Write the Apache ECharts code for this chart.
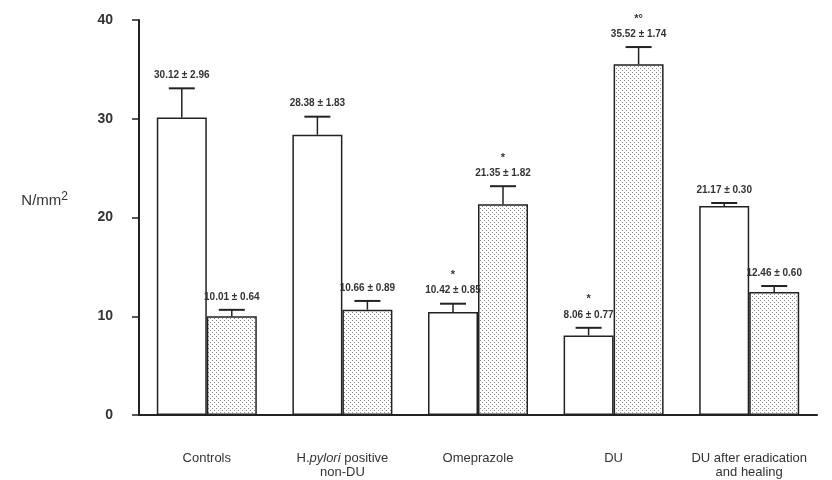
<!DOCTYPE html>
<html>
<head>
<meta charset="utf-8">
<script src="https://cdn.jsdelivr.net/npm/echarts@6/dist/echarts.min.js"></script>
<style>
  html, body { margin: 0; padding: 0; background: #fff; }
  #chart { width: 832px; height: 480px; }
</style>
</head>
<body>
<div id="chart"></div>
<script>
// Group names along the x axis
const categories = [
  'Controls',
  'H.{i|pylori} positive\nnon-DU',
  'Omeprazole',
  'DU',
  'DU after eradication\nand healing'
];
// Open bars: mean and SD
const openMeans = [30.12, 28.38, 10.42, 8.06, 21.17];
const openSD = [2.96, 1.83, 0.85, 0.77, 0.30];
const openMarks = ['', '', '*', '*', ''];
// Stippled bars: mean and SD
const dotMeans = [10.01, 10.66, 21.35, 35.52, 12.46];
const dotSD = [0.64, 0.89, 1.82, 1.74, 0.60];
const dotMarks = ['', '', '*', '*°', ''];
// Y axis
const yTicks = [0, 10, 20, 30, 40];

const BAR_W = 50;
const INK = '#222';
const FONT = '"Liberation Sans", Arial, sans-serif';

// Stipple fill for the second bar of each group
function stipple() {
  const c = document.createElement('canvas');
  c.width = 4; c.height = 4;
  const g = c.getContext('2d');
  g.fillStyle = '#fff';
  g.fillRect(0, 0, 4, 4);
  g.fillStyle = '#8a8a8a';
  g.fillRect(0, 0, 1, 1);
  g.fillRect(2, 2, 1, 1);
  return c;
}

function fmt(v) { return v.toFixed(2); }

// Upper whisker, cap, "mean ± SD" text and significance mark for one bar series
function errorSeries(means, sds, marks, side) {
  return {
    type: 'custom',
    z: 5,
    data: means.map((m, i) => [i, m, sds[i]]),
    renderItem: function (params, api) {
      const idx = api.value(0);
      const mean = api.value(1);
      const sd = api.value(2);
      const base = api.coord([idx, mean]);
      const top = api.coord([idx, mean + sd]);
      const x = base[0] + side * BAR_W / 2;
      const cap = 13;
      const children = [
        { type: 'line', shape: { x1: x, y1: base[1], x2: x, y2: top[1] },
          style: { stroke: INK, lineWidth: 1.5 } },
        { type: 'line', shape: { x1: x - cap, y1: top[1], x2: x + cap, y2: top[1] },
          style: { stroke: INK, lineWidth: 2 } },
        { type: 'text', x: x, y: top[1] - 8,
          style: { text: fmt(mean) + ' \u00b1 ' + fmt(sd), fill: '#333',
            font: 'bold 10px ' + FONT,
            align: 'center', verticalAlign: 'bottom' } }
      ];
      const mark = marks[params.dataIndex];
      if (mark) {
        children.push({ type: 'text', x: x, y: top[1] - 23,
          style: { text: mark, fill: '#333',
            font: 'bold 11px ' + FONT,
            align: 'center', verticalAlign: 'bottom' } });
      }
      return { type: 'group', children: children };
    }
  };
}

const chart = echarts.init(document.getElementById('chart'), null, { renderer: 'canvas' });
chart.setOption({
  animation: false,
  backgroundColor: '#fff',
  grid: { left: 139, right: 15, top: 20, bottom: 65, outerBoundsMode: 'none', containLabel: false },
  xAxis: {
    type: 'category',
    data: categories,
    axisLine: { lineStyle: { color: INK, width: 2 } },
    axisTick: { show: false },
    axisLabel: {
      interval: 0,
      margin: 36,
      color: '#333',
      fontSize: 13,
      lineHeight: 14,
      fontFamily: FONT,
      rich: {
        i: { fontStyle: 'italic', fontSize: 13, lineHeight: 14, fontFamily: FONT, color: '#333' }
      }
    }
  },
  yAxis: {
    type: 'value',
    min: yTicks[0],
    max: yTicks[yTicks.length - 1],
    interval: 10,
    splitLine: { show: false },
    axisLine: { show: true, lineStyle: { color: INK, width: 2 } },
    axisTick: { show: true, length: 7, lineStyle: { color: INK, width: 1.5 } },
    axisLabel: {
      margin: 26,
      color: '#333',
      fontSize: 14,
      fontWeight: 'bold',
      fontFamily: FONT
    },
    name: 'N/mm{s|2}',
    nameLocation: 'middle',
    nameRotate: 0,
    nameGap: 71,
    nameTextStyle: {
      color: '#333',
      fontSize: 15,
      fontFamily: FONT,
      padding: [0, 0, 34, 0],
      rich: {
        s: { fontSize: 12, verticalAlign: 'bottom', padding: [0, 0, 8, 0],
             color: '#333', fontFamily: FONT }
      }
    }
  },
  series: [
    {
      type: 'bar',
      data: openMeans,
      barWidth: BAR_W,
      barGap: '0%',
      itemStyle: { color: '#fff', borderColor: INK, borderWidth: 1.5 }
    },
    {
      type: 'bar',
      data: dotMeans,
      barWidth: BAR_W,
      barGap: '0%',
      itemStyle: {
        color: { image: stipple(), repeat: 'repeat' },
        borderColor: INK, borderWidth: 1.5
      }
    },
    errorSeries(openMeans, openSD, openMarks, -1),
    errorSeries(dotMeans, dotSD, dotMarks, 1)
  ]
});
</script>
</body>
</html>
